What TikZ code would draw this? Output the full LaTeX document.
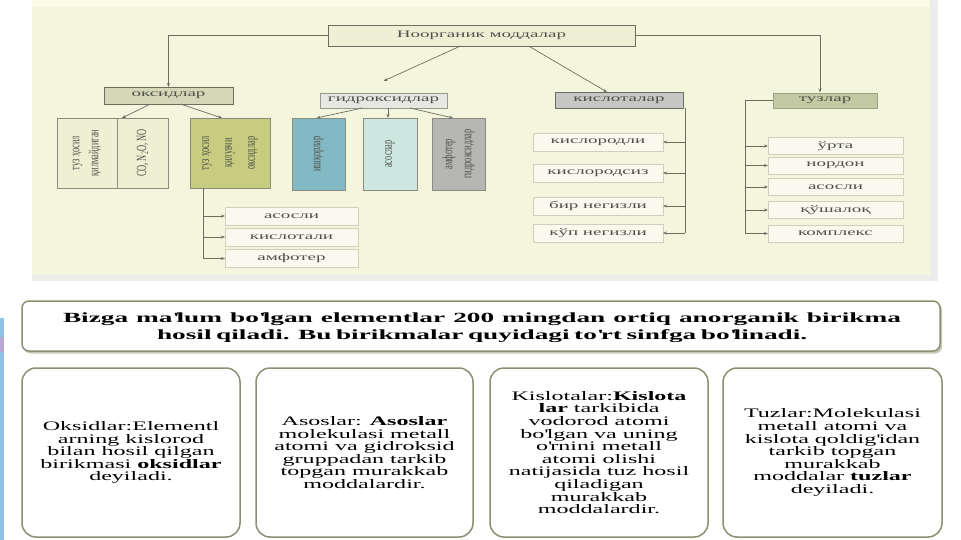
\documentclass[tikz,border=0pt]{standalone}
\usepackage{fontspec}
\setmainfont{Liberation Serif}[FakeStretch=1.85]
\newfontfamily\dfont{Liberation Serif}[FakeStretch=1.9]
\newfontfamily\sfont{Liberation Serif}[FakeStretch=1.95]
\newfontfamily\vfont{Liberation Serif}[FakeStretch=0.6]
\usetikzlibrary{arrows.meta,calc}
\definecolor{panelbg}{HTML}{F3F6DD}
\definecolor{toppale}{HTML}{FBFBE8}
\definecolor{greyband}{HTML}{ECECEA}
\definecolor{stripblue}{HTML}{8EC4E8}
\definecolor{stripviolet}{HTML}{B9A6D8}
\definecolor{dline}{HTML}{6E6E60}
\definecolor{dtextc}{HTML}{505048}
\definecolor{rootfill}{HTML}{EEF0D6}
\definecolor{oxfill}{HTML}{D4D8B8}
\definecolor{hydfill}{HTML}{E6E6E2}
\definecolor{acidfill}{HTML}{C6C6C4}
\definecolor{saltfill}{HTML}{C3C9A2}
\definecolor{vpale}{HTML}{EEF0D4}
\definecolor{vgreen}{HTML}{C6CC80}
\definecolor{vblue}{HTML}{82B9C4}
\definecolor{vcyan}{HTML}{CCE8E0}
\definecolor{vgrey}{HTML}{B6B6B2}
\definecolor{subfill}{HTML}{F9F9EE}
\definecolor{subdraw}{HTML}{CFCFBE}
\definecolor{boxdraw}{HTML}{8E8E72}
\definecolor{shadowc}{HTML}{C8C8B8}
\newcommand\ap{\textquotesingle}
\tikzset{
  dlabel/.style={font=\dfont\fontsize{10}{11}\selectfont, text=dtextc},
  dbox/.style={dlabel, draw=dline, line width=0.8pt, inner sep=0pt, outer sep=0pt},
  vbox/.style={draw=dline!80, line width=0.8pt, inner sep=0pt, outer sep=0pt, minimum height=70pt},
  vlabel/.style={font=\vfont\fontsize{14}{19}\selectfont, text=dtextc, rotate=90, align=center, inner sep=0pt},
  subbox/.style={dlabel, draw=subdraw, fill=subfill, line width=0.6pt, inner sep=0pt, outer sep=0pt, minimum width=133pt, minimum height=18pt},
  conn/.style={draw=dline, line width=0.7pt},
  arr/.style={conn, -{Stealth[length=4pt,width=3pt]}},
  infobox/.style={draw=boxdraw, line width=1.5pt, fill=white, rounded corners=14pt, minimum height=169pt, inner sep=0pt, outer sep=0pt, align=center, font=\fontsize{13}{12.6}\selectfont},
}
\begin{document}
\begin{tikzpicture}[x=1pt,y=-1pt]
\useasboundingbox (0,0) rectangle (961,540);
\fill[white] (0,0) rectangle (961,540);
% top panel
\fill[panelbg] (32,0) rectangle (930,275);
\fill[toppale] (32,0) rectangle (930,7);
\fill[greyband] (32,275) rectangle (938,281);
\fill[greyband] (930,0) rectangle (938,275);
% left strip
\fill[stripblue] (0,318) rectangle (4,540);
\fill[stripviolet] (0,337) rectangle (4,352);

% ===== top diagram =====
\node[dbox, fill=rootfill, minimum width=307pt, minimum height=21pt] (root) at (481.5,35.5) {Ноорганик моддалар};
\node[dbox, fill=oxfill, minimum width=129pt, minimum height=17pt] (ox) at (168.5,95.5) {оксидлар};
\node[dbox, fill=hydfill, draw=dline!70, minimum width=127pt, minimum height=15pt] (hyd) at (383.5,100.5) {гидроксидлар};
\node[dbox, fill=acidfill, minimum width=128pt, minimum height=16pt] (acid) at (619,100) {кислоталар};
\node[dbox, fill=saltfill, draw=saltfill!80!black, minimum width=104pt, minimum height=15pt] (salt) at (825,100.5) {тузлар};

\coordinate (saltin) at (820,92.5);
\draw[arr] (root.west) -| (ox.north);
\draw[arr] (root.east) -| (saltin);
\draw[arr] ($(root.south)+(-21,0)$) -- ([yshift=12pt]hyd.north);
\draw[arr] ($(root.south)+(47,0)$) -- ([xshift=-12pt]acid.north);

% oxide children
\node[vbox, fill=vpale, minimum width=60pt] (vb1) at (87,153) {};
\node[vbox, fill=vpale, minimum width=51pt] (vb2) at (142.5,153) {};
\node[vbox, fill=vgreen, minimum width=80pt] (vb3) at (230,153) {};
\node[vlabel] (vb1t) at (vb1) {туз ҳосил\\қилмайдиган};
\node[vlabel] (vb2t) at (vb2) {CO, N\textsubscript{2}O, NO};
\node[vlabel, font=\vfont\fontsize{14}{23}\selectfont] (vb3t) at (vb3) {туз ҳосил\\қилувчи\\оксидлар};
\draw[arr] ([xshift=-18pt]ox.south) -- ([xshift=5pt]vb1.north east);
\draw[arr] ([xshift=12pt]ox.south) -- ([xshift=-8pt]vb3.north);

% hydroxide children
\node[vbox, fill=vblue, minimum width=53pt, minimum height=72pt] (ha) at (318.5,154) {};
\node[vbox, fill=vcyan, minimum width=54pt, minimum height=72pt] (hb) at (390,154) {};
\node[vbox, fill=vgrey, minimum width=53pt, minimum height=72pt] (hc) at (458.5,154) {};
\node[vlabel] (hat) at (ha) {ишқорлар};
\node[vlabel] (hbt) at (hb) {асослар};
\node[vlabel] (hct) at (hc) {амфотер\\гидроксидлар};
\draw[arr] ([xshift=-21pt]hyd.south) -- ([xshift=-2pt]ha.north);
\draw[arr] ([xshift=4.5pt]hyd.south) -- ([xshift=-2pt]hb.north);
\draw[arr] ([xshift=26.5pt]hyd.south) -- ([xshift=-5.5pt]hc.north);

% salt-forming oxide subtypes
\node[subbox] (g1) at (291.5,216) {асосли};
\node[subbox] (g2) at (291.5,237) {кислотали};
\node[subbox] (g3) at (291.5,258.5) {амфотер};
\coordinate (gtop) at (203,188);
\coordinate (gbot) at (203,258.5);
\draw[conn] (gtop) -- (gbot);
\draw[arr] (203,216) -- (g1.west);
\draw[arr] (203,237) -- (g2.west);
\draw[arr] (gbot) -- (g3.west);

% acid subtypes
\node[subbox, minimum width=130pt] (a1) at (598,142) {кислородли};
\node[subbox, minimum width=130pt] (a2) at (598,173) {кислородсиз};
\node[subbox, minimum width=130pt] (a3) at (598,206) {бир негизли};
\node[subbox, minimum width=130pt] (a4) at (598,233) {кўп негизли};
\coordinate (atop) at (685,108);
\coordinate (abot) at (685,233);
\draw[conn] (atop) -- (abot);
\draw[arr] (685,142) -- (a1.east);
\draw[arr] (685,173) -- (a2.east);
\draw[arr] (685,206) -- (a3.east);
\draw[arr] (abot) -- (a4.east);

% salt subtypes
\node[subbox, minimum width=135pt, minimum height=17pt] (s1) at (835.5,146) {ўрта};
\node[subbox, minimum width=135pt, minimum height=17pt] (s2) at (835.5,165.5) {нордон};
\node[subbox, minimum width=135pt, minimum height=17pt] (s3) at (835.5,187) {асосли};
\node[subbox, minimum width=135pt, minimum height=17pt] (s4) at (835.5,210) {қўшалоқ};
\node[subbox, minimum width=135pt, minimum height=17pt] (s5) at (835.5,233.5) {комплекс};
\coordinate (scorner) at (745,100.5);
\coordinate (sbot) at (745,233.5);
\draw[conn] (salt.west) -- (scorner) -- (sbot);
\draw[arr] (745,146) -- (s1.west);
\draw[arr] (745,165.5) -- (s2.west);
\draw[arr] (745,187) -- (s3.west);
\draw[arr] (745,210) -- (s4.west);
\draw[arr] (sbot) -- (s5.west);

% ===== statement box =====
\fill[shadowc, rounded corners=7pt] (23.5,303) rectangle (942,353.5);
\node[draw=boxdraw, line width=1.5pt, fill=white, rounded corners=7pt, minimum width=918pt, minimum height=50pt, inner sep=0pt, outer sep=0pt] (stmt) at (481,326) {};
\node[font=\sfont\bfseries\fontsize{14}{17}\selectfont, align=center, inner sep=0pt] (stmtt) at (482,327.5)
  {\makebox[838pt][s]{Bizga ma\ap lum bo\ap lgan elementlar 200 mingdan ortiq anorganik birikma}\\
   \makebox[650pt][s]{hosil qiladi. Bu birikmalar quyidagi to\ap rt sinfga bo\ap linadi.}};

% ===== four info boxes =====
\node[infobox, minimum width=218pt] (b1) at (131,452.5)
  {Oksidlar:Elementl\\arning kislorod\\bilan hosil qilgan\\birikmasi \textbf{oksidlar}\\deyiladi.};
\node[infobox, minimum width=217pt] (b2) at (364.5,452.5)
  {Asoslar: \textbf{Asoslar}\\molekulasi metall\\atomi va gidroksid\\gruppadan tarkib\\topgan murakkab\\moddalardir.};
\node[infobox, minimum width=218pt] (b3) at (599,452.5)
  {Kislotalar:\textbf{Kislota}\\\textbf{lar} tarkibida\\vodorod atomi\\bo\ap lgan va uning\\o\ap rnini metall\\atomi olishi\\natijasida tuz hosil\\qiladigan\\murakkab\\moddalardir.};
\node[infobox, minimum width=219pt] (b4) at (832.5,452.5)
  {Tuzlar:Molekulasi\\metall atomi va\\kislota qoldig\ap idan\\tarkib topgan\\murakkab\\moddalar \textbf{tuzlar}\\deyiladi.};
\end{tikzpicture}
\end{document}
